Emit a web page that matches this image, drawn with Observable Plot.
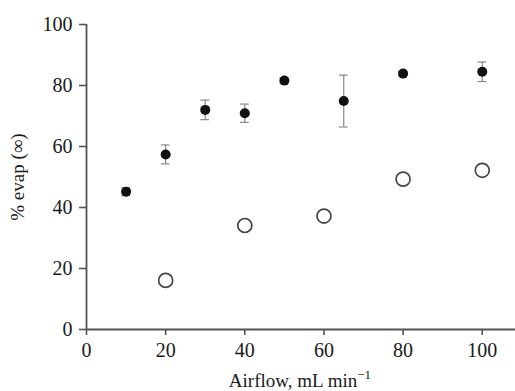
<!DOCTYPE html>
<html>
<head>
<meta charset="utf-8">
<script src="https://cdn.jsdelivr.net/npm/d3@7"></script>
<script src="https://cdn.jsdelivr.net/npm/@observablehq/plot@0.6"></script>
<style>
  body { margin: 0; background: #fff; }
  #chart svg { display: block; }
</style>
</head>
<body>
<div id="chart"></div>
<script>
// Evaporation vs. airflow: filled series with error bars, open series without.
const airflowFilled = [10, 20, 30, 40, 50, 65, 80, 100];
const evapFilled    = [45.2, 57.4, 72.0, 70.9, 81.6, 74.9, 83.9, 84.5];
const evapErr       = [1.3, 3.1, 3.2, 3.0, 1.0, 8.5, 0.8, 3.2];

const airflowOpen = [20, 40, 60, 80, 100];
const evapOpen    = [16.1, 34.1, 37.2, 49.3, 52.2];

const xTicks = [0, 20, 40, 60, 80, 100];
const yTicks = [0, 20, 40, 60, 80, 100];

const filled = airflowFilled.map((x, i) => ({x, y: evapFilled[i], e: evapErr[i]}));
const open = airflowOpen.map((x, i) => ({x, y: evapOpen[i]}));

const FONT = "'Liberation Serif', 'DejaVu Serif', serif";
const AXIS = "#555";
const capHalf = 1.1; // half-width of error-bar caps, in airflow units

const chart = Plot.plot({
  width: 515,
  height: 391,
  marginLeft: 86,
  marginRight: 0,
  marginTop: 24,
  marginBottom: 62,
  style: {fontFamily: FONT, fontSize: "20px", color: "#1a1a1a", background: "#fff"},
  x: {domain: [0, 108.4], label: null},
  y: {domain: [0, 100], label: null},
  marks: [
    Plot.axisX({ticks: xTicks, tickSize: 6, tickPadding: 7, stroke: AXIS, strokeWidth: 1.6, label: null}),
    Plot.axisY({ticks: yTicks, tickSize: 7, tickPadding: 7, stroke: AXIS, strokeWidth: 1.6, label: null}),
    Plot.ruleY([0], {stroke: AXIS, strokeWidth: 1.8}),
    Plot.ruleX([0], {y1: 0, y2: 100, stroke: AXIS, strokeWidth: 1.8}),
    // error bars
    Plot.ruleX(filled, {x: "x", y1: d => d.y - d.e, y2: d => d.y + d.e, stroke: "#888", strokeWidth: 1.2}),
    Plot.ruleY(filled, {y: d => d.y + d.e, x1: d => d.x - capHalf, x2: d => d.x + capHalf, stroke: "#888", strokeWidth: 1.2}),
    Plot.ruleY(filled, {y: d => d.y - d.e, x1: d => d.x - capHalf, x2: d => d.x + capHalf, stroke: "#888", strokeWidth: 1.2}),
    Plot.dot(filled, {x: "x", y: "y", r: 5, fill: "#111", stroke: "none"}),
    Plot.dot(open, {x: "x", y: "y", r: 7, fill: "#fff", stroke: "#444", strokeWidth: 1.7})
  ]
});

const svg = d3.select(chart);

// x-axis title with superscript
const xt = svg.append("text")
  .attr("x", 300)
  .attr("y", 387)
  .attr("text-anchor", "middle")
  .attr("font-family", FONT)
  .attr("font-size", 19)
  .attr("fill", "#1a1a1a");
xt.append("tspan").text("Airflow, mL min");
xt.append("tspan").attr("dy", -8).attr("font-size", 13).text("\u22121");

// y-axis title
svg.append("text")
  .attr("transform", "translate(24,177) rotate(-90)")
  .attr("text-anchor", "middle")
  .attr("font-family", FONT)
  .attr("font-size", 19)
  .attr("fill", "#1a1a1a")
  .text("% evap (\u221E)");

document.getElementById("chart").append(chart);
</script>
</body>
</html>
